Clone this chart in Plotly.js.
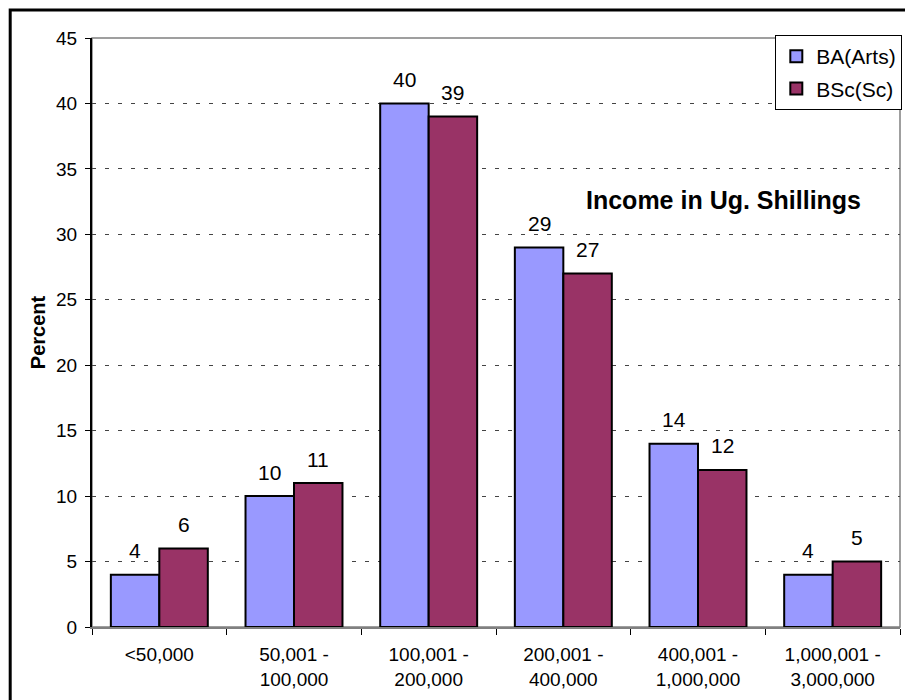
<!DOCTYPE html>
<html><head><meta charset="utf-8">
<script src="https://cdn.plot.ly/plotly-3.0.1.min.js"></script>
<style>body{margin:0;background:#fff}#chart{width:905px;height:700px}</style>
</head><body><div id="chart"></div>
<script>
const categories = ["<50,000", "50,001 -<br>100,000", "100,001 -<br>200,000", "200,001 -<br>400,000", "400,001 -<br>1,000,000", "1,000,001 -<br>3,000,000"];
const baArts = [4, 10, 40, 29, 14, 4];
const bscSc = [6, 11, 39, 27, 12, 5];
const seriesNames = ["BA(Arts)", "BSc(Sc)"];
const yTicks = [0, 5, 10, 15, 20, 25, 30, 35, 40, 45];

const font = "Arial, 'Liberation Sans', sans-serif";
const traces = [
  {type: "bar", name: seriesNames[0], x: categories, y: baArts, legendgroup: "a",
   marker: {color: "#9999FF", line: {color: "#000", width: 2}}, hoverinfo: "y"},
  {type: "bar", name: seriesNames[1], x: categories, y: bscSc, legendgroup: "b",
   marker: {color: "#993366", line: {color: "#000", width: 2}}, hoverinfo: "y"}
];

const annotations = [];
const shift = 24.3;
categories.forEach((c, i) => {
  annotations.push({x: c, y: baArts[i], xref: "x", yref: "y", text: String(baArts[i]), showarrow: false,
    xshift: -shift, yshift: 24, yanchor: "middle", font: {family: font, size: 21, color: "#000"}});
  annotations.push({x: c, y: bscSc[i], xref: "x", yref: "y", text: String(bscSc[i]), showarrow: false,
    xshift: shift, yshift: 24, yanchor: "middle", font: {family: font, size: 21, color: "#000"}});
});
annotations.push({xref: "paper", yref: "paper", x: (725 - 92) / 810, y: 1 - (200 - 38) / 589,
  text: "<b>Income in Ug. Shillings</b>", showarrow: false, xanchor: "center", yanchor: "middle",
  font: {family: font, size: 25, color: "#000"}});

const layout = {
  width: 905, height: 700,
  margin: {l: 92, r: 3, t: 38, b: 73, pad: 0},
  paper_bgcolor: "#fff", plot_bgcolor: "#fff",
  barmode: "group", bargap: 0.28, bargroupgap: 0,
  font: {family: font, color: "#000"},
  showlegend: true,
  legend: {x: (777 - 92) / 810, y: 1 + (38 - 35) / 589, xanchor: "left", yanchor: "top",
    bordercolor: "#000", borderwidth: 1, bgcolor: "#fff", font: {family: font, size: 21},
    traceorder: "grouped", tracegroupgap: 2, itemwidth: 30},
  xaxis: {type: "category", showgrid: false, zeroline: false, showline: true, linecolor: "#808080", linewidth: 1.5,
    ticks: "outside", tickson: "boundaries", ticklen: 6, tickcolor: "#000", tickwidth: 1,
    ticklabelstandoff: 10,
    tickfont: {family: font, size: 19}, fixedrange: true},
  yaxis: {range: [0, 45], tickvals: yTicks, ticktext: yTicks.map(String), showgrid: true,
    gridcolor: "#444", griddash: "4px,9px", gridwidth: 1, zeroline: false,
    showline: true, linecolor: "#000", linewidth: 2, ticks: "outside", ticklen: 5, tickcolor: "#000",
    ticklabelstandoff: 4,
    tickfont: {family: font, size: 19},
    title: {text: "<b>Percent</b>", font: {family: font, size: 20}, standoff: 5}, fixedrange: true},
  shapes: [
    {type: "rect", xref: "paper", yref: "paper", x0: 0, x1: 1, y0: 0, y1: 1, line: {color: "#808080", width: 1.5}, layer: "below"},
    {type: "rect", xref: "paper", yref: "paper", x0: (10 - 92) / 810, x1: 1.2, y0: -0.3, y1: 1 + (38 - 10) / 589,
     line: {color: "#000", width: 3}, layer: "above"}
  ],
  annotations: annotations
};
Plotly.newPlot("chart", traces, layout, {displayModeBar: false, staticPlot: true});
</script></body></html>
